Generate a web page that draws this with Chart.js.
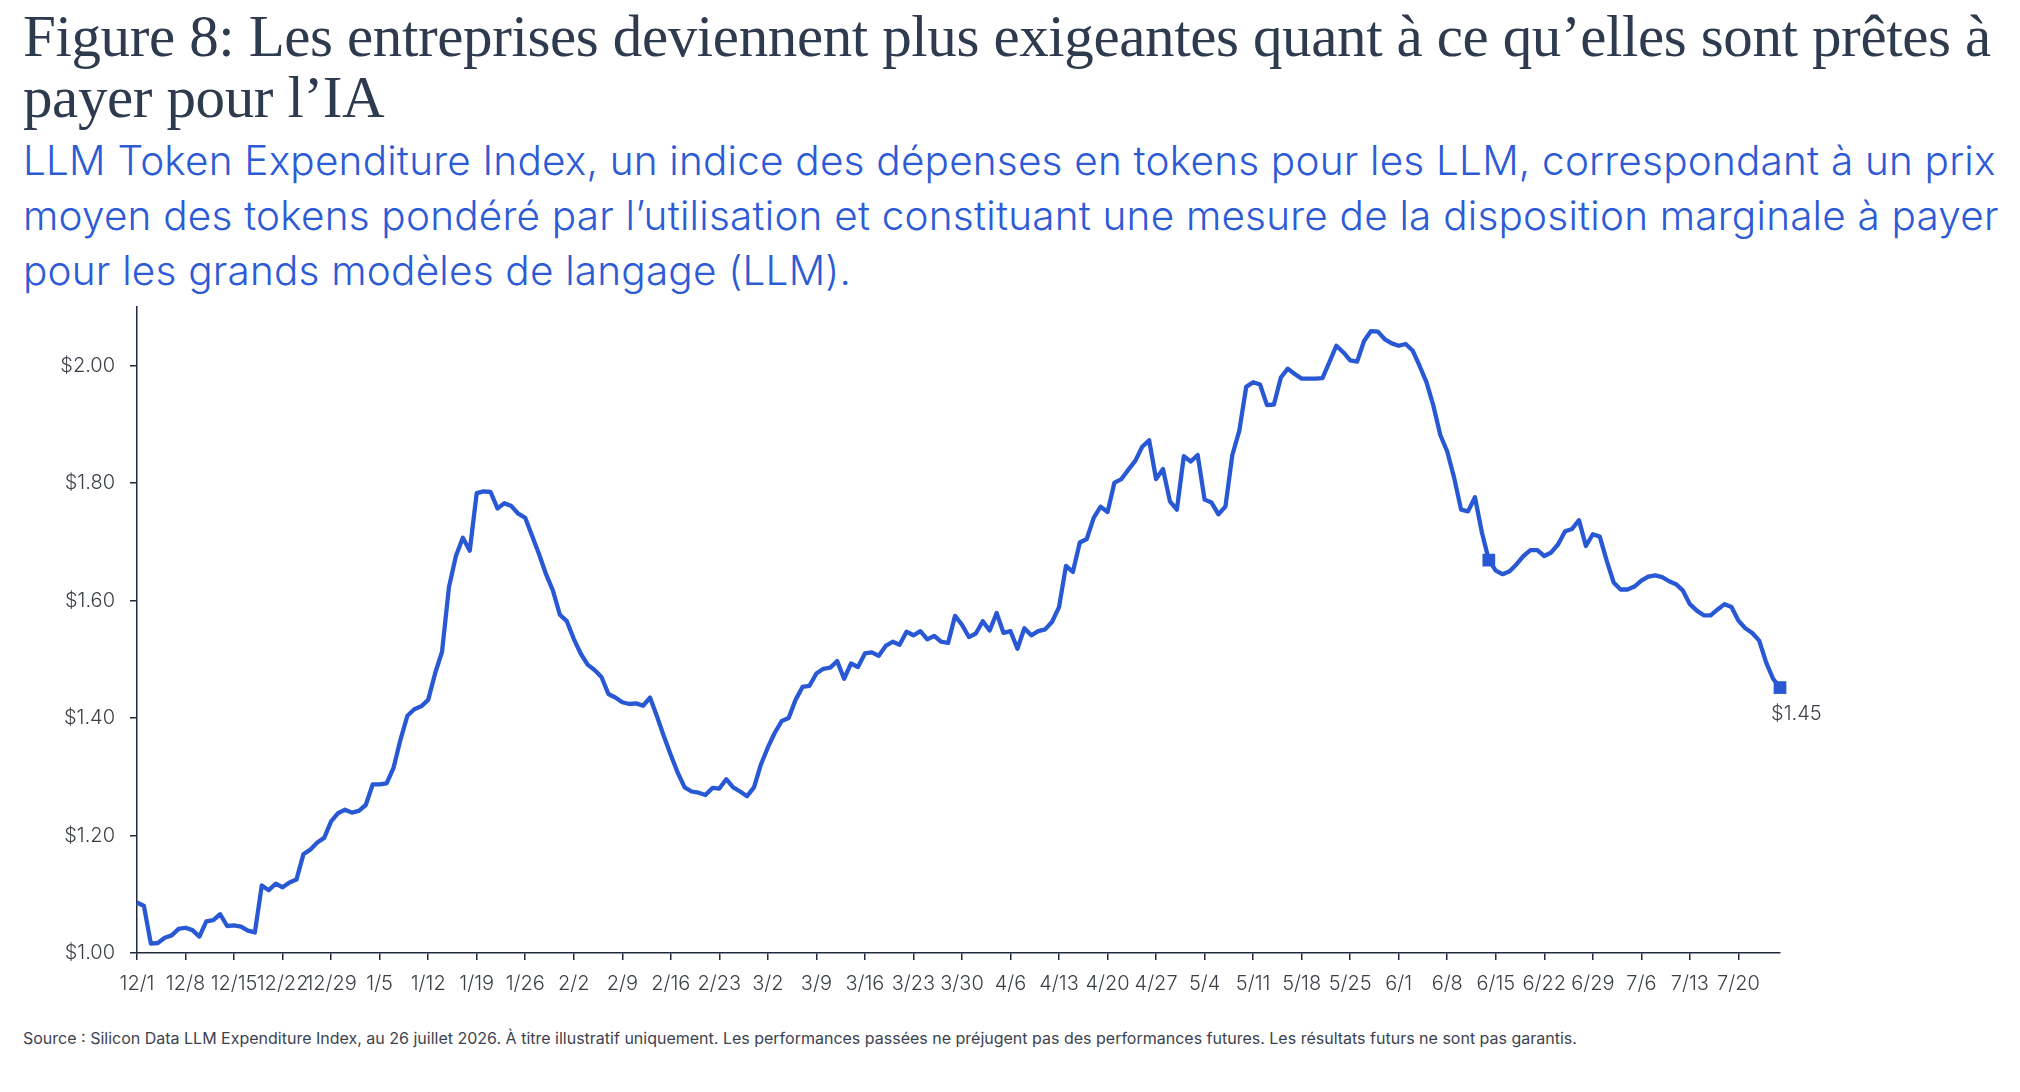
<!DOCTYPE html>
<html lang="fr">
<head>
<meta charset="utf-8">
<title>LLM Token Expenditure Index</title>
<script src="https://cdn.jsdelivr.net/npm/chart.js@4.4.1/dist/chart.umd.min.js"></script>
<style>
    html, body { margin: 0; padding: 0; background: #ffffff; }
    body { width: 2020px; height: 1092px; position: relative; overflow: hidden; }
    .title {
        position: absolute; left: 23px; top: 6px;
        font-family: "Liberation Serif", serif; font-size: 59px; line-height: 61px;
        color: #2e3b4e; white-space: nowrap; letter-spacing: -0.38px;
    }
    .subtitle {
        position: absolute; left: 23px; top: 133px;
        font-family: Inter, "Noto Sans", sans-serif; font-weight: 300; font-size: 40.5px; line-height: 55px;
        color: #2d5bd6; white-space: nowrap; letter-spacing: 0.2px;
    }
    .source {
        position: absolute; left: 23px; top: 1028px;
        font-family: Inter, "Noto Sans", sans-serif; font-size: 16px; line-height: 20px;
        color: #3c4350; white-space: nowrap;
    }
    .chart-box { position: absolute; left: 0; top: 280px; width: 2020px; height: 740px; }
</style>
</head>
<body>
<div class="title">Figure 8: Les entreprises deviennent plus exigeantes quant à ce qu’elles sont prêtes à<br>payer pour l’IA</div>
<div class="subtitle">LLM Token Expenditure Index, un indice des dépenses en tokens pour les LLM, correspondant à un prix<br>moyen des tokens pondéré par l’utilisation et constituant une mesure de la disposition marginale à payer<br>pour les grands modèles de langage (LLM).</div>
<div class="chart-box"><canvas id="tokenIndexChart"></canvas></div>
<div class="source">Source : Silicon Data LLM Expenditure Index, au 26 juillet 2026. À titre illustratif uniquement. Les performances passées ne préjugent pas des performances futures. Les résultats futurs ne sont pas garantis.</div>

<script>
// weekly tick labels, one every 7 days starting 12/1
const tickLabels = ['12/1', '12/8', '12/15', '12/22', '12/29', '1/5', '1/12', '1/19', '1/26', '2/2', '2/9', '2/16',
    '2/23', '3/2', '3/9', '3/16', '3/23', '3/30', '4/6', '4/13', '4/20', '4/27', '5/4', '5/11', '5/18', '5/25',
    '6/1', '6/8', '6/15', '6/22', '6/29', '7/6', '7/13', '7/20'];

const yTicks = [1.0, 1.2, 1.4, 1.6, 1.8, 2.0];

// daily index values (USD), 12/1 through 7/26
const values = [
    1.086, 1.080, 1.016, 1.017, 1.026, 1.030, 1.041, 1.043, 1.039, 1.028, 1.054, 1.056, 1.066, 1.046,
    1.047, 1.045, 1.038, 1.035, 1.115, 1.107, 1.118, 1.112, 1.120, 1.125, 1.168, 1.176, 1.188, 1.196,
    1.224, 1.238, 1.244, 1.239, 1.242, 1.252, 1.287, 1.287, 1.289, 1.315, 1.363, 1.404, 1.415, 1.420,
    1.431, 1.476, 1.513, 1.623, 1.676, 1.707, 1.685, 1.783, 1.786, 1.785, 1.757, 1.766, 1.761, 1.748,
    1.741, 1.710, 1.679, 1.645, 1.617, 1.576, 1.565, 1.535, 1.510, 1.491, 1.482, 1.470, 1.441, 1.435,
    1.427, 1.424, 1.425, 1.421, 1.435, 1.403, 1.369, 1.337, 1.307, 1.282, 1.275, 1.273, 1.269, 1.281,
    1.280, 1.296, 1.282, 1.275, 1.267, 1.282, 1.321, 1.350, 1.375, 1.395, 1.400, 1.431, 1.453, 1.455,
    1.476, 1.484, 1.486, 1.497, 1.467, 1.493, 1.487, 1.510, 1.512, 1.506, 1.523, 1.530, 1.525, 1.547,
    1.541, 1.548, 1.534, 1.540, 1.530, 1.528, 1.574, 1.559, 1.538, 1.544, 1.565, 1.549, 1.579, 1.545,
    1.548, 1.518, 1.553, 1.541, 1.548, 1.551, 1.564, 1.589, 1.659, 1.649, 1.699, 1.705, 1.741, 1.760,
    1.751, 1.801, 1.807, 1.823, 1.838, 1.862, 1.873, 1.807, 1.824, 1.769, 1.755, 1.846, 1.837, 1.848,
    1.772, 1.767, 1.747, 1.760, 1.848, 1.889, 1.964, 1.972, 1.968, 1.933, 1.934, 1.980, 1.995, 1.986,
    1.978, 1.978, 1.978, 1.979, 2.006, 2.034, 2.023, 2.009, 2.007, 2.042, 2.059, 2.058, 2.045, 2.038,
    2.034, 2.037, 2.026, 2.000, 1.972, 1.932, 1.882, 1.854, 1.809, 1.755, 1.752, 1.776, 1.716, 1.669,
    1.651, 1.645, 1.650, 1.662, 1.676, 1.686, 1.686, 1.676, 1.682, 1.696, 1.718, 1.722, 1.737, 1.693,
    1.713, 1.709, 1.668, 1.631, 1.619, 1.619, 1.624, 1.634, 1.641, 1.643, 1.640, 1.633, 1.628, 1.617,
    1.594, 1.583, 1.575, 1.575, 1.585, 1.594, 1.589, 1.566, 1.553, 1.545, 1.532, 1.495, 1.467, 1.452
];

// days that carry a square marker (6/14 and the last point)
const markerDays = [195, 237];

const colors = {
    line: '#2858d4',
    axis: '#1f2b3c',
    tick: '#3a3f47'
};

function formatDollar(value) {
    return `$${Number(value).toFixed(2)}`;
}

const endLabelPlugin = {
    id: 'endLabel',
    afterDatasetsDraw(chart) {
        const meta = chart.getDatasetMeta(0);
        const last = meta.data[meta.data.length - 1];
        if (!last) return;
        const ctx = chart.ctx;
        ctx.save();
        ctx.font = '300 20px Inter, "Noto Sans", sans-serif';
        ctx.fillStyle = colors.tick;
        ctx.textAlign = 'left';
        ctx.textBaseline = 'alphabetic';
        ctx.fillText(formatDollar(values[values.length - 1]), last.x - 9, last.y + 32);
        ctx.restore();
    }
};

const tickFont = { family: 'Inter, "Noto Sans", sans-serif', size: 20, weight: 300 };

new Chart(document.getElementById('tokenIndexChart').getContext('2d'), {
    type: 'line',
    data: {
        datasets: [{
            data: values.map((v, i) => ({ x: i, y: v })),
            borderColor: colors.line,
            borderWidth: 4.3,
            borderJoinStyle: 'round',
            tension: 0,
            clip: false,
            pointStyle: 'rect',
            pointRadius: (ctx) => (markerDays.includes(ctx.dataIndex) ? 9 : 0),
            pointHoverRadius: 0,
            pointBackgroundColor: colors.line,
            pointBorderWidth: 0
        }]
    },
    options: {
        responsive: true,
        maintainAspectRatio: false,
        animation: false,
        layout: { padding: { left: 0, right: 240, top: 23, bottom: 7 } },
        plugins: { legend: { display: false }, tooltip: { enabled: false } },
        scales: {
            x: {
                type: 'linear',
                min: 0,
                max: values.length - 1,
                afterBuildTicks: (scale) => {
                    scale.ticks = tickLabels.map((_, i) => ({ value: i * 7 }));
                },
                afterFit: (scale) => { scale.height = 60; },
                grid: { drawOnChartArea: false, tickLength: 7, color: colors.axis, lineWidth: 1.5 },
                border: { display: true, color: colors.axis, width: 1.5 },
                ticks: {
                    autoSkip: false,
                    maxRotation: 0,
                    padding: 12,
                    color: colors.tick,
                    font: tickFont,
                    callback: (value) => tickLabels[Math.round(value / 7)]
                }
            },
            y: {
                min: 1.0,
                max: 2.1,
                afterBuildTicks: (scale) => {
                    scale.ticks = yTicks.map((v) => ({ value: v }));
                },
                afterFit: (scale) => { scale.width = 137; },
                grid: { drawOnChartArea: false, tickLength: 7, color: colors.axis, lineWidth: 1.5 },
                border: { display: true, color: colors.axis, width: 1.5 },
                ticks: {
                    padding: 15,
                    color: colors.tick,
                    font: tickFont,
                    callback: (value) => formatDollar(value)
                }
            }
        }
    },
    plugins: [endLabelPlugin]
});
</script>
</body>
</html>
